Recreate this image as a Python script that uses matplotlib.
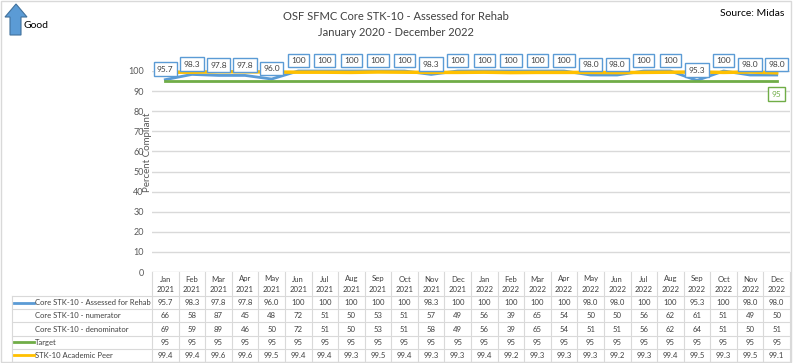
import matplotlib
matplotlib.use("Agg")
import matplotlib.pyplot as plt
import matplotlib.transforms as mtransforms
from matplotlib.patches import Polygon, Rectangle
from matplotlib.lines import Line2D

plt.rcParams["font.family"] = ["Lato", "DejaVu Sans"]

# -----------------------------
# Data
# -----------------------------
months = ["Jan", "Feb", "Mar", "Apr", "May", "Jun",
          "Jul", "Aug", "Sep", "Oct", "Nov", "Dec"] * 2
years = ["2021"] * 12 + ["2022"] * 12

rehab = [95.7, 98.3, 97.8, 97.8, 96.0, 100, 100, 100, 100, 100, 98.3, 100,
         100, 100, 100, 100, 98.0, 98.0, 100, 100, 95.3, 100, 98.0, 98.0]
numerator = [66, 58, 87, 45, 48, 72, 51, 50, 53, 51, 57, 49,
             56, 39, 65, 54, 50, 50, 56, 62, 61, 51, 49, 50]
denominator = [69, 59, 89, 46, 50, 72, 51, 50, 53, 51, 58, 49,
               56, 39, 65, 54, 51, 51, 56, 62, 64, 51, 50, 51]
target = [95] * 24
peer = [99.4, 99.4, 99.6, 99.6, 99.5, 99.4, 99.4, 99.3, 99.5, 99.4, 99.3, 99.3,
        99.4, 99.2, 99.3, 99.3, 99.3, 99.2, 99.3, 99.4, 99.5, 99.3, 99.5, 99.1]

series_names = ["Core STK-10 - Assessed for Rehab", "Core STK-10 - numerator",
                "Core STK-10 - denominator", "Target", "STK-10 Academic Peer"]

BLUE = "#5B9BD5"
GREEN = "#70AD47"
GOLD = "#FFC000"
TXT = "#404040"
GRID = "#D9D9D9"

W, H = 793, 363
TABLE_FS = 5.6


def fx(x):
    return x / W


def fy(y):
    return 1 - y / H


def fmt_pct(v):
    return "100" if v == 100 else f"{v:.1f}"


fig = plt.figure(figsize=(W / 100, H / 100), dpi=100)

# plot area in pixels: x 152..790, y(100)=71, y(0)=272
ax = fig.add_axes([fx(152), fy(272), (790 - 152) / W, (272 - 71) / H])
x = list(range(len(months)))

ax.plot(x, rehab, color=BLUE, lw=2, clip_on=False, zorder=3)
ax.plot(x, target, color=GREEN, lw=2, clip_on=False, zorder=3)
ax.plot(x, peer, color=GOLD, lw=2.5, clip_on=False, zorder=4)

ax.set_xlim(-0.5, len(months) - 0.5)
ax.set_ylim(0, 100)
ax.set_yticks(range(0, 101, 10))
ax.tick_params(axis="y", length=0, pad=6, labelsize=6.5, labelcolor="#595959")
ax.set_xticks([])
ax.grid(axis="y", color=GRID, lw=1)
ax.set_axisbelow(True)
for s in ax.spines.values():
    s.set_visible(False)

# data labels
for i, v in enumerate(rehab):
    ax.annotate(fmt_pct(v), (i, v), xytext=(0, 7.5), textcoords="offset points",
                ha="center", va="center", fontsize=6, color=TXT, zorder=6,
                annotation_clip=False,
                bbox=dict(boxstyle="square,pad=0.4", fc="white", ec=BLUE, lw=1))
ax.annotate(str(target[-1]), (x[-1], target[-1]), xytext=(0, -9.5),
            textcoords="offset points", ha="center", va="center", fontsize=6,
            color=GREEN, annotation_clip=False,
            bbox=dict(boxstyle="square,pad=0.4", fc="white", ec=GREEN, lw=1))

fig.text(fx(147), fy(152), "Percent Compliant", rotation=90, ha="center",
         va="center", fontsize=7, color="#595959")

# -----------------------------
# Data table
# -----------------------------
tr = mtransforms.blended_transform_factory(ax.transData, fig.transFigure)
head_top, head_bot = 272, 296
row_h = (362 - head_bot) / 5
row_edges = [head_bot + k * row_h for k in range(6)]

for i in range(len(months) + 1):
    fig.add_artist(Line2D([i - 0.5, i - 0.5], [fy(head_top), fy(362)],
                          transform=tr, color=GRID, lw=0.8))
for yy in row_edges:
    fig.add_artist(Line2D([fx(12), fx(790)], [fy(yy), fy(yy)], color=GRID, lw=0.8))
fig.add_artist(Line2D([fx(12), fx(12)], [fy(head_bot), fy(362)], color=GRID, lw=0.8))

for i, (m, yr) in enumerate(zip(months, years)):
    fig.text(i, fy(head_top + 12), f"{m}\n{yr}", transform=tr, ha="center",
             va="center", fontsize=TABLE_FS, color=TXT, linespacing=1.5)

rows = [[fmt_pct(v) for v in rehab], [str(v) for v in numerator],
        [str(v) for v in denominator], [str(v) for v in target],
        [f"{v:.1f}" for v in peer]]
keys = [BLUE, None, None, GREEN, GOLD]

for r, (name, vals, key) in enumerate(zip(series_names, rows, keys)):
    yc = fy((row_edges[r] + row_edges[r + 1]) / 2)
    if key:
        fig.add_artist(Line2D([fx(14), fx(34)], [yc, yc], color=key, lw=2))
    fig.text(fx(35), yc, name, ha="left", va="center", fontsize=5.5, color=TXT)
    for i, t in enumerate(vals):
        fig.text(i, yc, t, transform=tr, ha="center", va="center",
                 fontsize=TABLE_FS, color=TXT)

# -----------------------------
# Titles, arrow, border
# -----------------------------
fig.text(fx(396), fy(16), "OSF SFMC Core STK-10 - Assessed for Rehab",
         ha="center", va="center", fontsize=8, color=TXT)
fig.text(fx(396), fy(32), "January 2020 - December 2022",
         ha="center", va="center", fontsize=8, color=TXT)
fig.text(fx(784), fy(13), "Source: Midas", ha="right", va="center",
         fontsize=7.5, color="black")

arrow_px = [(16, 4), (27, 17), (21, 17), (21, 35), (10, 35), (10, 17), (5, 17)]
fig.add_artist(Polygon([(fx(a), fy(b)) for a, b in arrow_px], closed=True,
                       fc=BLUE, ec="#41719C", lw=0.8, transform=fig.transFigure))
fig.text(fx(23), fy(25), "Good", ha="left", va="center", fontsize=7.5, color="black")

fig.add_artist(Rectangle((0.001, 0.002), 0.997, 0.995, transform=fig.transFigure,
                         fill=False, ec=GRID, lw=1))

fig.savefig("out.png", dpi=100)
